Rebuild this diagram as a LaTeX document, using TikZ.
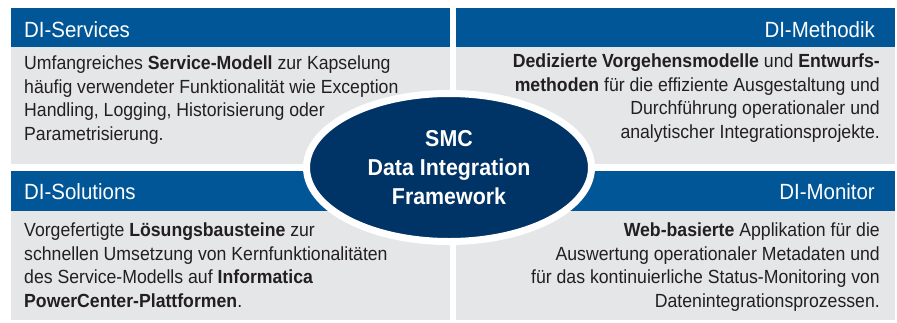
\documentclass[tikz,border=0pt]{standalone}
\usepackage{fontspec}
\setmainfont{Liberation Sans}[FakeStretch=0.93]
\usepackage{tikz}
\usetikzlibrary{shapes.geometric,positioning}
\definecolor{dihead}{RGB}{0,86,151}
\definecolor{dinavy}{RGB}{0,51,102}
\definecolor{digrey}{RGB}{229,230,232}
\definecolor{ditext}{RGB}{35,31,32}
\tikzset{
  myhead/.style = {inner sep=0pt, text=white, font=\fontsize{22}{26}\selectfont},
  mybody/.style = {inner sep=0pt, text=ditext, font=\fontsize{19}{23.5}\selectfont},
  mycore/.style = {ellipse, draw=white, line width=7pt, fill=dinavy, minimum width=285pt, minimum height=148pt, inner sep=0pt, text=white, align=center, font=\bfseries\fontsize{23}{29}\selectfont},
}

\begin{document}
\begin{tikzpicture}[x=1pt,y=-1pt]
\useasboundingbox (0,0) rectangle (897,322);
\def\L{11}  \def\M{450}
\def\N{456} \def\R{895}
% panels
\fill[dihead] (\L,8) rectangle (\M,47);
\fill[digrey] (\L,47) rectangle (\M,164);
\fill[dihead] (\N,8) rectangle (\R,47);
\fill[digrey] (\N,47) rectangle (\R,164);
\fill[dihead] (\L,171) rectangle (\M,211);
\fill[digrey] (\L,211) rectangle (\M,320);
\fill[dihead] (\N,171) rectangle (\R,211);
\fill[digrey] (\N,211) rectangle (\R,320);
% headers
\node[myhead, anchor=base west] (services) at (24,37) {DI-Services};
\node[myhead, anchor=base east] (methodik) at (875,37) {DI-Methodik};
\node[myhead, anchor=base west] (solutions) at (24,199) {DI-Solutions};
\node[myhead, anchor=base east] (monitor) at (875,199) {DI-Monitor};
% texts
\node[mybody, anchor=north west, align=left] (servicestxt) at (24,56)
  {Umfangreiches \textbf{Service-Modell} zur Kapselung\\
   häufig verwendeter Funktionalität wie Exception\\
   Handling, Logging, Historisierung oder\\
   Parametrisierung.};
\node[mybody, anchor=north east, align=right] (methodiktxt) at (880,54)
  {\textbf{Dedizierte Vorgehensmodelle} und \textbf{Entwurfs-}\\
   \textbf{methoden} für die effiziente Ausgestaltung und\\
   Durchführung operationaler und\\
   analytischer Integrationsprojekte.};
\node[mybody, anchor=north west, align=left] (solutionstxt) at (24,223)
  {Vorgefertigte \textbf{Lösungsbausteine} zur\\
   schnellen Umsetzung von Kernfunktionalitäten\\
   des Service-Modells auf \textbf{Informatica}\\
   \textbf{PowerCenter-Plattformen}.};
\node[mybody, anchor=north east, align=right] (monitortxt) at (880,223)
  {\textbf{Web-basierte} Applikation für die\\
   Auswertung operationaler Metadaten und\\
   für das kontinuierliche Status-Monitoring von\\
   Datenintegrationsprozessen.};
% centre
\node[mycore] (smc) at (449,167.5) {SMC\\ Data Integration\\ Framework};
\end{tikzpicture}
\end{document}
